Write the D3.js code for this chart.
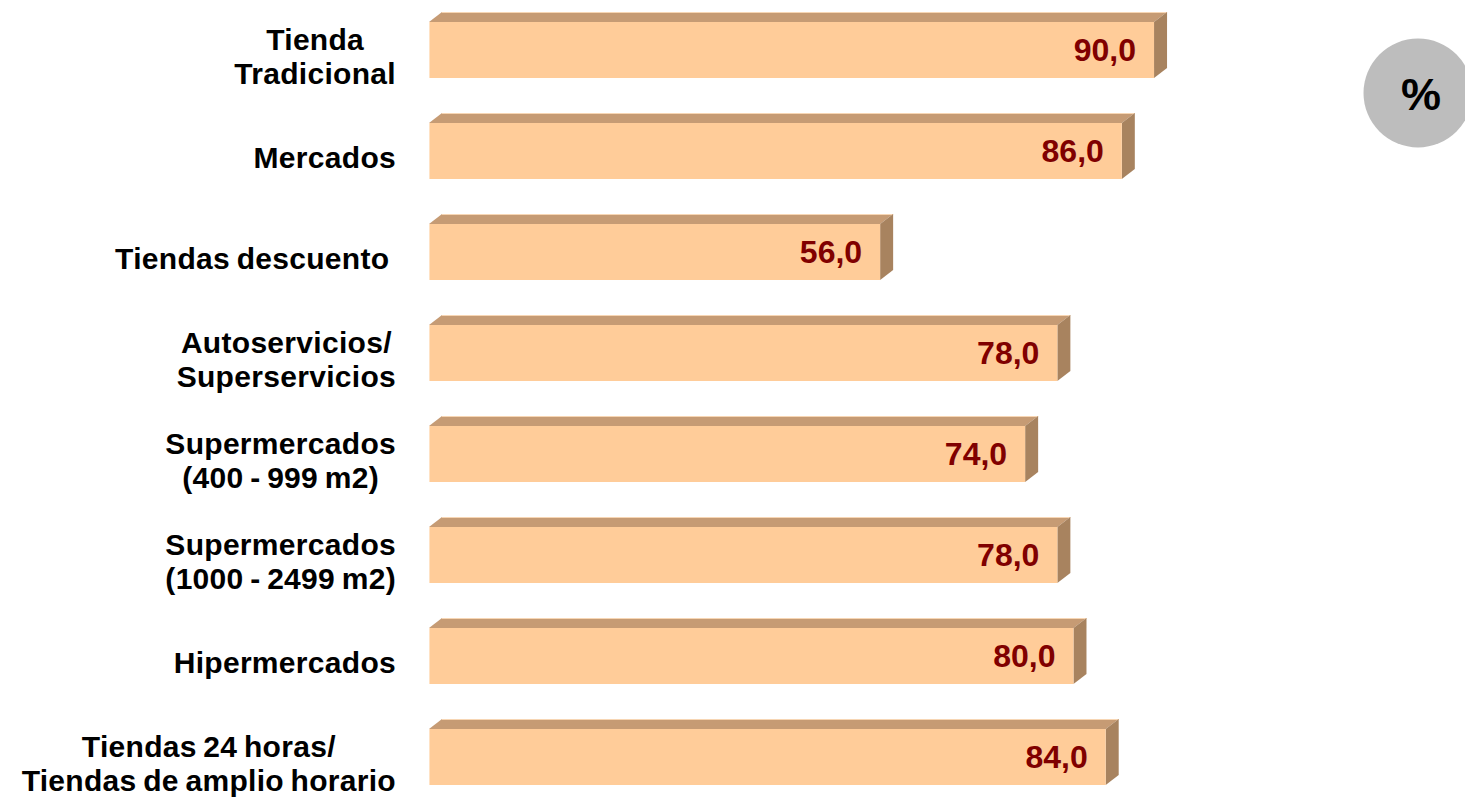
<!DOCTYPE html>
<html>
<head>
<meta charset="utf-8">
<script src="https://cdn.jsdelivr.net/npm/d3@7"></script>
<style>
  html, body { margin: 0; padding: 0; background: #ffffff; }
  svg { display: block; }
  text { font-family: "Liberation Sans", Arial, sans-serif; font-weight: bold; white-space: pre; }
</style>
</head>
<body>
<svg id="chart" width="1465" height="799"></svg>
<script>
// ---- data ----
const categories = [
  "Tienda\nTradicional",
  "Mercados",
  "Tiendas descuento ",
  "Autoservicios/\nSuperservicios",
  "Supermercados\n(400 - 999 m2)",
  "Supermercados\n(1000 - 2499 m2)",
  "Hipermercados",
  "Tiendas 24 horas/\nTiendas de amplio horario"
];
const values = [90.0, 86.0, 56.0, 78.0, 74.0, 78.0, 80.0, 84.0];
const unitLabel = "%";

// ---- layout ----
const svg = d3.select("#chart");
const x = d3.scaleLinear().domain([0, 100]).range([429, 1234.6]);
const y = d3.scaleBand().domain(categories).range([22, 22 + 7 * 101 + 56])
  .paddingInner(45 / 101).paddingOuter(0);
const depthX = 13, depthY = 10;
const fmt = v => v.toFixed(1).replace(".", ",");

const data = categories.map((c, i) => ({ c, v: values[i] }));
const bars = svg.append("g").selectAll("g").data(data).join("g");

// top face
bars.append("path")
  .attr("d", d => {
    const x0 = x(0), x1 = x(d.v), yt = y(d.c);
    return `M${x0},${yt} L${x0 + depthX},${yt - depthY} L${x1 + depthX},${yt - depthY} L${x1},${yt} Z`;
  })
  .attr("fill", "#C69B74");
// top highlight edge
bars.append("line")
  .attr("x1", d => x(0) + depthX).attr("x2", d => x(d.v) + depthX)
  .attr("y1", d => y(d.c) - depthY + 0.5).attr("y2", d => y(d.c) - depthY + 0.5)
  .attr("stroke", "#F7D6B4").attr("stroke-width", 1);
// side face
bars.append("path")
  .attr("d", d => {
    const x1 = x(d.v), yt = y(d.c), yb = yt + y.bandwidth();
    return `M${x1},${yt} L${x1 + depthX},${yt - depthY} L${x1 + depthX},${yb - depthY} L${x1},${yb} Z`;
  })
  .attr("fill", "#A8835F");
// front face
bars.append("rect")
  .attr("x", x(0)).attr("y", d => y(d.c))
  .attr("width", d => x(d.v) - x(0)).attr("height", y.bandwidth())
  .attr("fill", "#FFCC99");
// left highlight
bars.append("line")
  .attr("x1", x(0) + 0.5).attr("x2", x(0) + 0.5)
  .attr("y1", d => y(d.c)).attr("y2", d => y(d.c) + y.bandwidth())
  .attr("stroke", "#FFE2C4").attr("stroke-width", 1);

// value labels
bars.append("text")
  .attr("x", d => x(d.v) - 18)
  .attr("y", d => y(d.c) + y.bandwidth() / 2 + 11)
  .attr("text-anchor", "end")
  .attr("font-size", 32)
  .attr("fill", "#800000")
  .text(d => fmt(d.v));

// category labels (one text element per category, one tspan per line)
const labelRight = 396, lineH = 34, fontSize = 30;
categories.forEach(c => {
  const lines = c.split("\n");
  const cy = y(c) + y.bandwidth() / 2 + 6;
  const t = svg.append("text")
    .attr("font-size", fontSize)
    .attr("letter-spacing", 0.3)
    .attr("word-spacing", -2)
    .attr("fill", "#000")
    .attr("text-anchor", "middle");
  const spans = lines.map((ln, j) =>
    t.append("tspan")
      .attr("y", cy + (j - (lines.length - 1) / 2) * lineH + 10.5)
      .text(ln));
  const maxW = d3.max(spans, s => s.node().getComputedTextLength());
  spans.forEach(s => s.attr("x", labelRight - maxW / 2));
});

// unit badge
svg.append("circle").attr("cx", 1418).attr("cy", 93).attr("r", 54.5).attr("fill", "#BDBDBD");
svg.append("text").attr("x", 1421).attr("y", 110).attr("text-anchor", "middle")
  .attr("font-size", 45).attr("fill", "#000").text(unitLabel);
</script>
</body>
</html>
